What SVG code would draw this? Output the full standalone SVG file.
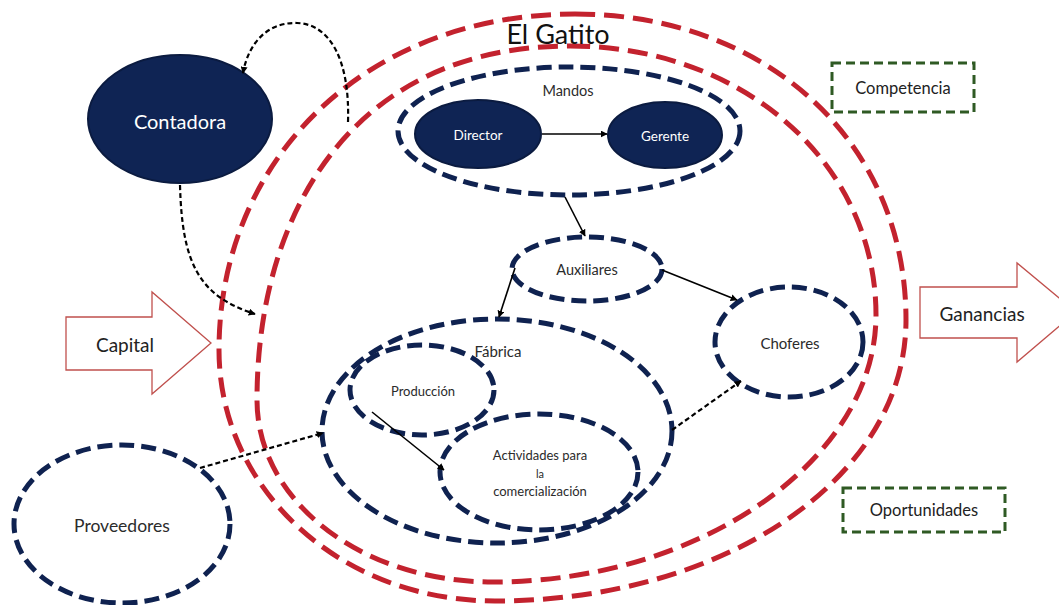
<svg xmlns="http://www.w3.org/2000/svg" width="1059" height="605" viewBox="0 0 1059 605">
  <defs>
    <marker id="arrow" viewBox="0 0 10 10" refX="9" refY="5" markerWidth="7" markerHeight="7" markerUnits="userSpaceOnUse" orient="auto">
      <path d="M0,0 L10,5 L0,10 z" fill="#000"/>
    </marker>
    <style>
      .red { fill: none; stroke: #c3222e; stroke-width: 5; stroke-dasharray: 20 9; }
      .dash { fill: none; stroke: #0f2250; stroke-width: 5; stroke-dasharray: 15 7; }
      .solid { fill: #0f2454; stroke: #0b1b40; stroke-width: 2; }
      .green { fill: #fff; stroke: #2f5a24; stroke-width: 3; stroke-dasharray: 9 5; }
      .block { fill: #fff; stroke: #c0504d; stroke-width: 1.3; }
      .link { fill: none; stroke: #000; stroke-width: 1.6; marker-end: url(#arrow); }
      .dlink { fill: none; stroke: #000; stroke-width: 2.2; stroke-dasharray: 5 3; marker-end: url(#arrow); }
      text { font-family: Lato, "Liberation Sans", sans-serif; text-anchor: middle; dominant-baseline: central; fill: #2b2b2b; }
      .w { fill: #fff; }
    </style>
  </defs>
  <rect width="1059" height="605" fill="#fff"/>

  <!-- company boundary (two red dashed rings) -->
  <g id="el-gatito">
    <path class="red" d="M575,14 C765,14 906,140 906,320 C906,480 722,601 495,601 C340,601 219,489 219,350 C219,160 365,14 575,14 Z"/>
    <path class="red" d="M570,46 C745,46 876,165 876,315 C876,460 700,582 493,582 C360,582 257,500 257,400 C257,210 355,46 570,46 Z"/>
    <text x="558" y="33" style="font-size:27px;fill:#111">El Gatito</text>
  </g>

  <!-- external factors -->
  <g id="capital">
    <path class="block" d="M66,317 H152 V292 L211,343 L152,394 V370 H66 Z"/>
    <text x="125" y="344" style="font-size:19px;fill:#222">Capital</text>
  </g>
  <g id="ganancias">
    <path class="block" d="M920,287 H1017 V263 L1076,312 L1017,362 V338 H920 Z"/>
    <text x="982" y="313" style="font-size:19px;fill:#222">Ganancias</text>
  </g>
  <g id="competencia">
    <rect class="green" x="832" y="63" width="142" height="49"/>
    <text x="903" y="88" style="font-size:16.5px;fill:#222">Competencia</text>
  </g>
  <g id="oportunidades">
    <rect class="green" x="843" y="488" width="162" height="44"/>
    <text x="924" y="510" style="font-size:16.5px;fill:#222">Oportunidades</text>
  </g>

  <!-- nodes -->
  <g id="contadora">
    <ellipse class="solid" cx="180" cy="119" rx="92" ry="64"/>
    <text class="w" x="180" y="121" style="font-size:20px">Contadora</text>
  </g>
  <g id="mandos">
    <ellipse class="dash" cx="569" cy="131" rx="171" ry="64"/>
    <text x="568" y="90" style="font-size:14.5px">Mandos</text>
  </g>
  <g id="director">
    <ellipse class="solid" cx="478" cy="134" rx="63" ry="34"/>
    <text class="w" x="478" y="135" style="font-size:13.5px">Director</text>
  </g>
  <g id="gerente">
    <ellipse class="solid" cx="665" cy="135" rx="57" ry="33"/>
    <text class="w" x="665" y="136" style="font-size:13.5px">Gerente</text>
  </g>
  <g id="auxiliares">
    <ellipse class="dash" cx="587" cy="269" rx="75" ry="32"/>
    <text x="587" y="269" style="font-size:14.5px">Auxiliares</text>
  </g>
  <g id="choferes">
    <ellipse class="dash" cx="789" cy="342" rx="74" ry="55"/>
    <text x="790" y="343" style="font-size:15px">Choferes</text>
  </g>
  <g id="fabrica">
    <ellipse class="dash" cx="497" cy="431" rx="175" ry="112"/>
    <text x="498" y="351" style="font-size:15px">Fábrica</text>
  </g>
  <g id="produccion">
    <ellipse class="dash" cx="422" cy="390" rx="72" ry="45"/>
    <text x="423" y="391" style="font-size:13px">Producción</text>
  </g>
  <g id="actividades">
    <ellipse class="dash" cx="539" cy="472" rx="99" ry="58"/>
    <text x="540" y="455" style="font-size:13px">Actividades para</text>
    <text x="540" y="473" style="font-size:11px">la</text>
    <text x="540" y="491" style="font-size:13px">comercialización</text>
  </g>
  <g id="proveedores">
    <ellipse class="dash" cx="122" cy="524" rx="108" ry="79"/>
    <text x="122" y="525" style="font-size:17.5px">Proveedores</text>
  </g>

  <!-- connectors -->
  <g id="connectors">
    <path class="link" d="M542,134 L607,134"/>
    <path class="link" d="M565,197 L585,236"/>
    <path class="link" d="M515,268 L499,317"/>
    <path class="link" d="M662,270 L737,300"/>
    <path class="link" d="M372,412 L444,470"/>
    <path class="dlink" d="M348,122 C350,60 330,24 297,23 C266,22 248,45 243,73"/>
    <path class="dlink" d="M180,185 C182,262 198,296 255,314"/>
    <path class="dlink" d="M200,468 L323,433"/>
    <path class="dlink" d="M672,430 L741,381"/>
  </g>
</svg>
